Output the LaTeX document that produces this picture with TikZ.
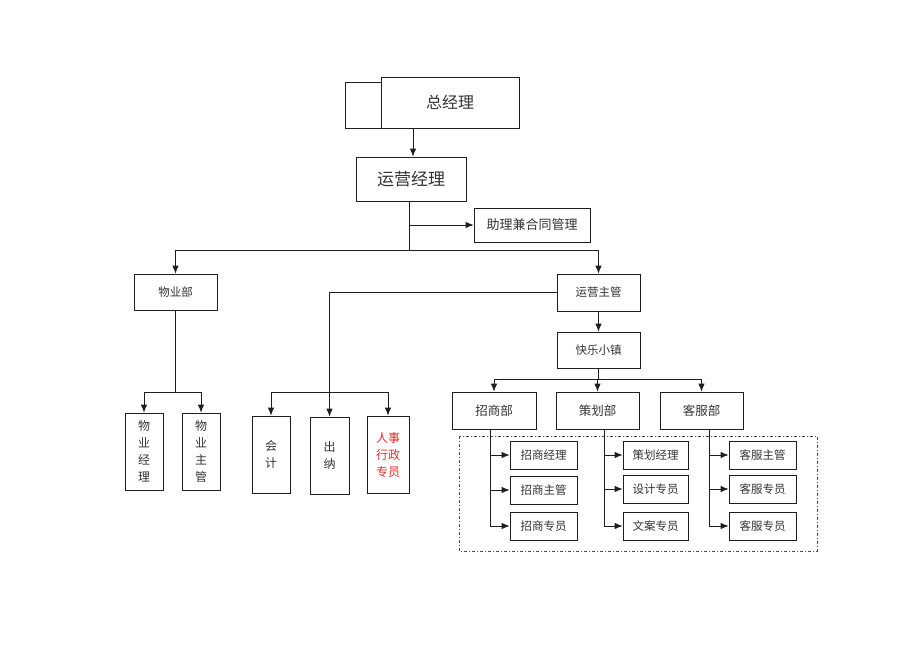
\documentclass[tikz,border=0pt]{standalone}
\usepackage{fontspec}
\newfontfamily\cjk{Noto Sans CJK SC}
\usetikzlibrary{arrows.meta}
\definecolor{linec}{RGB}{30,30,30}
\definecolor{redtxt}{RGB}{240,40,40}
\tikzset{
  box/.style={draw=linec, line width=0.8pt, rectangle, inner sep=0pt, align=center, text=black!80, font=\cjk\fontsize{11.5}{14}\selectfont},
  vbox/.style={box, font=\cjk\fontsize{12}{17}\selectfont},
  bigbox/.style={box, font=\cjk\fontsize{16}{18}\selectfont},
  conn/.style={draw=linec, line width=0.8pt},
  arr/.style={conn, -{Latex[length=8pt,width=6.5pt]}},
  dashframe/.style={draw=black!70, line width=0.8pt, dash pattern=on 3pt off 2pt on 1pt off 2pt}
}
\begin{document}
\begin{tikzpicture}[x=1pt,y=-1pt]
\useasboundingbox (0,0) rectangle (920,651);
% top
\node[box, minimum width=36pt, minimum height=46pt] (sb) at (363,105) {};
\node[bigbox, minimum width=138pt, minimum height=51pt] (zjl) at (450,102.5) {总经理};
\node[bigbox, minimum width=110pt, minimum height=44pt, font=\cjk\fontsize{17}{19}\selectfont] (yyjl) at (411,179) {运营经理};
\node[box, minimum width=116pt, minimum height=34pt, font=\cjk\fontsize{13}{15}\selectfont] (zl) at (532,225) {助理兼合同管理};
\coordinate (h1) at (409,250);
\draw[arr] ([xshift=2pt]yyjl.north |- zjl.south) -- ([xshift=2pt]yyjl.north);
\draw[conn] (yyjl.south -| h1) -- (h1);
\draw[arr] (h1 |- zl.west) -- (zl.west);
% level 2
\node[box, minimum width=83pt, minimum height=36pt] (wyb) at (175.5,292) {物业部};
\node[box, minimum width=83pt, minimum height=37pt] (yyzg) at (598.5,292.5) {运营主管};
\draw[arr] (h1) -| (wyb.north);
\draw[arr] (h1) -| (yyzg.north);
% property
\node[vbox, minimum width=38pt, minimum height=77pt] (wyjl) at (144,451.5) {物\\业\\经\\理};
\node[vbox, minimum width=38pt, minimum height=77pt] (wyzg) at (201,451.5) {物\\业\\主\\管};
\coordinate (h2) at (175.5,392);
\draw[conn] (wyb.south) -- (h2);
\draw[arr] (h2) -| (wyjl.north);
\draw[arr] (h2) -| (wyzg.north);
% finance / admin
\node[vbox, minimum width=38pt, minimum height=77pt] (kj) at (271,454.5) {会\\计};
\node[vbox, minimum width=39pt, minimum height=77pt] (cn) at (329.5,455.5) {出\\纳};
\node[vbox, minimum width=42pt, minimum height=77pt, text=redtxt] (rs) at (388,454.5) {人事\\行政\\专员};
\coordinate (h3) at (329.5,392);
\draw[arr] (yyzg.west) -| (cn.north);
\draw[arr] (h3) -| (kj.north);
\draw[arr] (h3) -| (rs.north);
% happy town
\node[box, minimum width=83pt, minimum height=36pt] (kl) at (598.5,350) {快乐小镇};
\draw[arr] (yyzg.south) -- (kl.north);
\coordinate (h4) at (598.5,379);
\draw[conn] (kl.south) -- (h4);
\node[box, minimum width=84pt, minimum height=37pt, font=\cjk\fontsize{12.5}{14}\selectfont] (zsb) at (494,410.5) {招商部};
\node[box, minimum width=83pt, minimum height=37pt, font=\cjk\fontsize{12.5}{14}\selectfont] (chb) at (597.5,410.5) {策划部};
\node[box, minimum width=83pt, minimum height=37pt, font=\cjk\fontsize{12.5}{14}\selectfont] (kfb) at (701.5,410.5) {客服部};
\draw[arr] (h4) -| (zsb.north);
\draw[arr] (h4) -| (chb.north);
\draw[arr] (h4) -| (kfb.north);
% frame
\draw[dashframe] (459,436) rectangle (817,551);
% sub boxes
\node[box, minimum width=67pt, minimum height=28pt] (zs1) at (543.5,455) {招商经理};
\node[box, minimum width=67pt, minimum height=28pt] (zs2) at (543.5,490) {招商主管};
\node[box, minimum width=67pt, minimum height=28pt] (zs3) at (543.5,526) {招商专员};
\node[box, minimum width=65pt, minimum height=28pt] (ch1) at (655.5,455) {策划经理};
\node[box, minimum width=65pt, minimum height=28pt] (ch2) at (655.5,489) {设计专员};
\node[box, minimum width=65pt, minimum height=28pt] (ch3) at (655.5,526) {文案专员};
\node[box, minimum width=67pt, minimum height=28pt] (kf1) at (762.5,455) {客服主管};
\node[box, minimum width=67pt, minimum height=28pt] (kf2) at (762.5,489) {客服专员};
\node[box, minimum width=67pt, minimum height=28pt] (kf3) at (762.5,526) {客服专员};
\foreach \n in {zs1,zs2,zs3}{\draw[arr] ([xshift=-4pt]zsb.south) |- (\n.west);}
\foreach \n in {ch1,ch2,ch3}{\draw[arr] ([xshift=6.5pt]chb.south) |- (\n.west);}
\foreach \n in {kf1,kf2,kf3}{\draw[arr] ([xshift=7.5pt]kfb.south) |- (\n.west);}
\end{tikzpicture}
\end{document}
